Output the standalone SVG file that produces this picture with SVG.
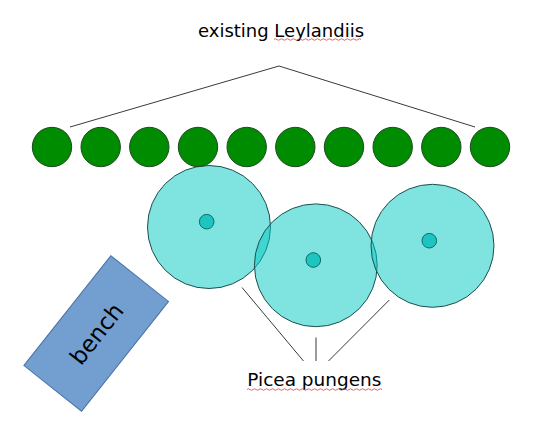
<svg xmlns="http://www.w3.org/2000/svg" width="540" height="442" viewBox="0 0 540 442">
<style>
.lbl{font-family:"DejaVu Sans","Liberation Sans",Arial,sans-serif;fill:#000}
.tree{fill:#008c00;stroke:#1f4a1f;stroke-width:1}
.crown{fill:#00c7c1;fill-opacity:0.5;stroke:#1c4f4f;stroke-width:1}
.trunk{fill:#1cc5bf;stroke:#106a68;stroke-width:1}
.conn{fill:none;stroke:#3a3a3a;stroke-width:1}
.squig{fill:none;stroke:#d04040;stroke-width:0.8}
</style>
<rect width="540" height="442" fill="#fff"/>
<g id="connectors">
<polyline class="conn" points="70,127 279,66 475,127"/>
<line class="conn" x1="242" y1="287.5" x2="303.5" y2="361"/>
<line class="conn" x1="316" y1="337.5" x2="316" y2="361"/>
<line class="conn" x1="389.3" y1="300" x2="328.5" y2="361"/>
</g>
<g id="picea1"><circle class="crown" cx="209" cy="227" r="61.5"/><circle class="trunk" cx="206.7" cy="221.7" r="7.3"/></g>
<g id="picea2"><circle class="crown" cx="315.8" cy="265.3" r="61.4"/><circle class="trunk" cx="313.3" cy="260" r="7.3"/></g>
<g id="picea3"><circle class="crown" cx="432.5" cy="245.8" r="61.5"/><circle class="trunk" cx="429.3" cy="240.7" r="7.3"/></g>
<g id="leylandiis">
<circle class="tree" cx="52" cy="147" r="19.7"/>
<circle class="tree" cx="100.7" cy="147" r="19.7"/>
<circle class="tree" cx="149.3" cy="147" r="19.7"/>
<circle class="tree" cx="198" cy="147" r="19.7"/>
<circle class="tree" cx="246.7" cy="147" r="19.7"/>
<circle class="tree" cx="295.3" cy="147" r="19.7"/>
<circle class="tree" cx="344" cy="147" r="19.7"/>
<circle class="tree" cx="392.7" cy="147" r="19.7"/>
<circle class="tree" cx="441.3" cy="147" r="19.7"/>
<circle class="tree" cx="490" cy="147" r="19.7"/>
</g>
<g id="bench" transform="translate(96.2,333.5) rotate(-51.6)">
<rect x="-70" y="-36.8" width="140" height="73.6" fill="#729fcf" stroke="#4a72a8" stroke-width="1"/>
<text class="lbl" x="0" y="8.5" font-size="23" text-anchor="middle">bench</text>
</g>
<g id="label-leylandiis">
<text class="lbl" x="198" y="37.3" font-size="17.9" textLength="166" lengthAdjust="spacingAndGlyphs">existing Leylandiis</text>
<path class="squig" d="M274,39.5 q1.5,-1.5 3,0 t3,0 t3,0 t3,0 t3,0 t3,0 t3,0 t3,0 t3,0 t3,0 t3,0 t3,0 t3,0 t3,0 t3,0 t3,0 t3,0 t3,0 t3,0 t3,0 t3,0 t3,0 t3,0 t3,0 t3,0 t3,0 t3,0 t3,0 t3,0"/>
</g>
<g id="label-picea">
<text class="lbl" x="247.3" y="386" font-size="18" textLength="134" lengthAdjust="spacingAndGlyphs">Picea pungens</text>
<path class="squig" d="M247,389.5 q1.5,-1.5 3,0 t3,0 t3,0 t3,0 t3,0 t3,0 t3,0 t3,0 t3,0 t3,0 t3,0 t3,0 t3,0 t3,0 t3,0 t3,0 t3,0 t3,0 t3,0 t3,0 t3,0 t3,0 t3,0 t3,0 t3,0 t3,0 t3,0 t3,0 t3,0 t3,0 t3,0 t3,0 t3,0 t3,0 t3,0 t3,0 t3,0 t3,0 t3,0 t3,0 t3,0 t3,0 t3,0 t3,0 t3,0"/>
</g>
</svg>
